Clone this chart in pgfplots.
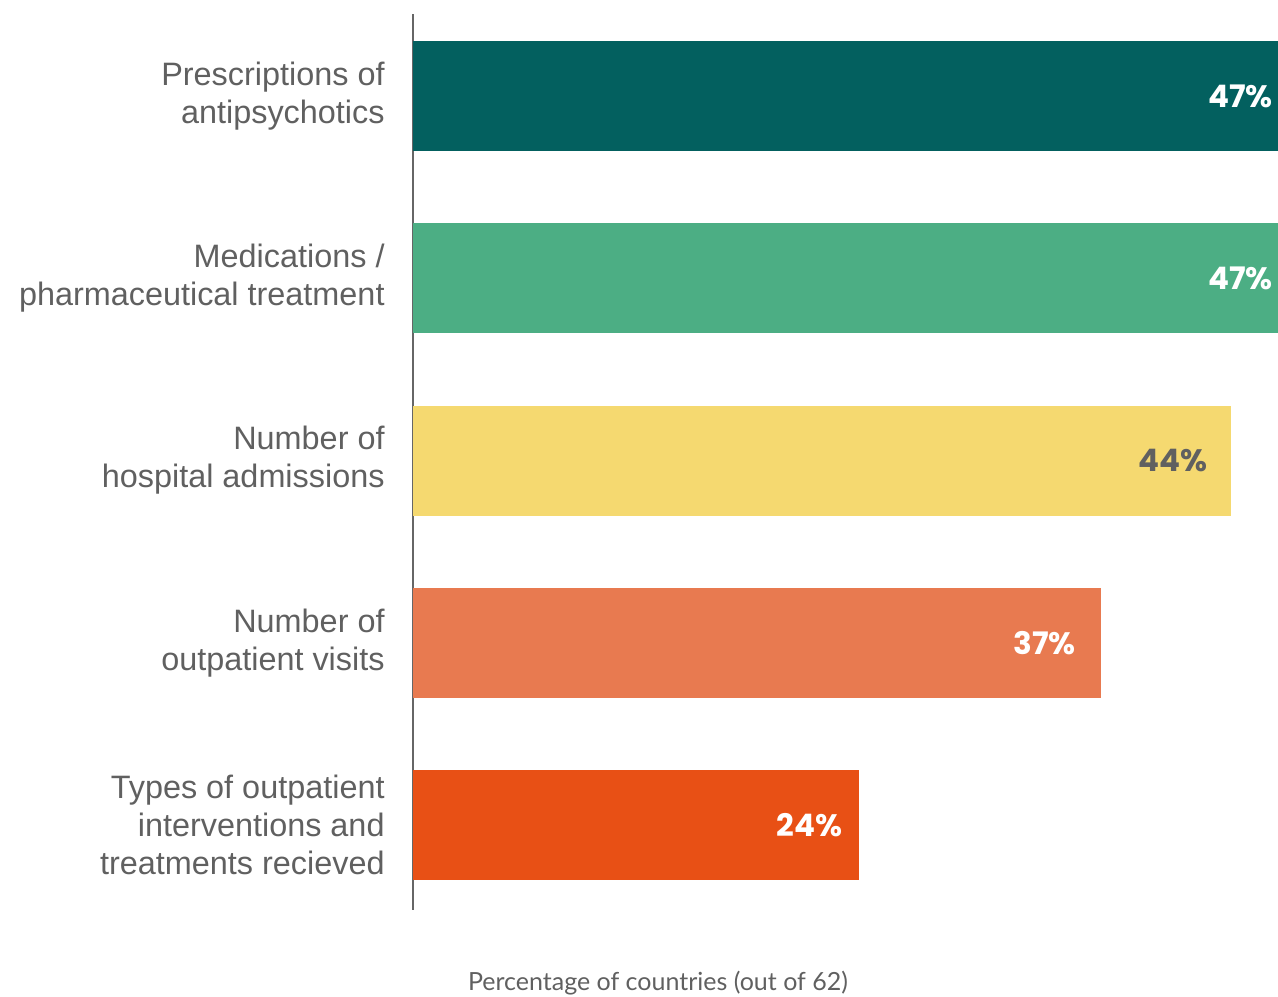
\documentclass[border=0pt]{standalone}
\usepackage{pgfplots}
\pgfplotsset{compat=1.18}
\usepackage{fontspec}
\setmainfont{Liberation Sans}
\newfontfamily\valfont{Poppins}
\newfontfamily\latofont{Lato}
\definecolor{c1}{HTML}{03605F}
\definecolor{c2}{HTML}{4CAE84}
\definecolor{c3}{HTML}{F5D970}
\definecolor{c4}{HTML}{E87A50}
\definecolor{c5}{HTML}{E85015}
\definecolor{labelgray}{HTML}{606060}
\definecolor{axisgray}{HTML}{666666}
\begin{document}
\begin{tikzpicture}
\begin{axis}[
  xbar, width=432.5pt, height=448pt, scale only axis,
  xmin=0, xmax=46.5, ymin=-0.45, ymax=4.466, y dir=reverse,
  axis x line=none, axis y line*=left,
  y axis line style={draw=axisgray, line width=1pt, -},
  ytick={0,1,2,3,4},
  yticklabels={{Prescriptions of\\antipsychotics},{Medications /\\pharmaceutical treatment},{Number of\\hospital admissions},{Number of\\outpatient visits},{Types of outpatient\\interventions and\\treatments recieved}},
  major tick length=0pt,
  yticklabel style={align=right, font=\fontsize{16.2}{19}\selectfont, text=labelgray, inner sep=0pt, xshift=-14pt},
  bar width=55pt, bar shift=0pt,
  clip=false,
  point meta=x,
  nodes near coords={\pgfmathprintnumber[assume math mode=true]{\pgfplotspointmeta}\%},
  every node near coord/.append style={anchor=east, inner sep=0pt, font=\valfont\bfseries\fontsize{15.5}{18}\selectfont},
]
\addplot[fill=c1, draw=none, nodes near coords style={text=white, xshift=-7pt}] coordinates {(47,0)};
\addplot[fill=c2, draw=none, nodes near coords style={text=white, xshift=-7pt}] coordinates {(47,1)};
\addplot[fill=c3, draw=none, nodes near coords style={text=labelgray, xshift=-12pt}] coordinates {(44,2)};
\addplot[fill=c4, draw=none, nodes near coords style={text=white, xshift=-12.5pt}] coordinates {(37,3)};
\addplot[fill=c5, draw=none, nodes near coords style={text=white, xshift=-8.5pt}] coordinates {(24,4)};
\end{axis}
\node[font=\latofont\fontsize{12.5}{15}\selectfont, text=labelgray, anchor=center] at ([xshift=122.5pt, yshift=-36.5pt]current axis.south west) {Percentage of countries (out of 62)};
\pgfresetboundingbox
\path ([xshift=-206.5pt, yshift=-43.5pt]current axis.south west) rectangle ([yshift=7pt]current axis.north east);
\end{tikzpicture}
\end{document}
